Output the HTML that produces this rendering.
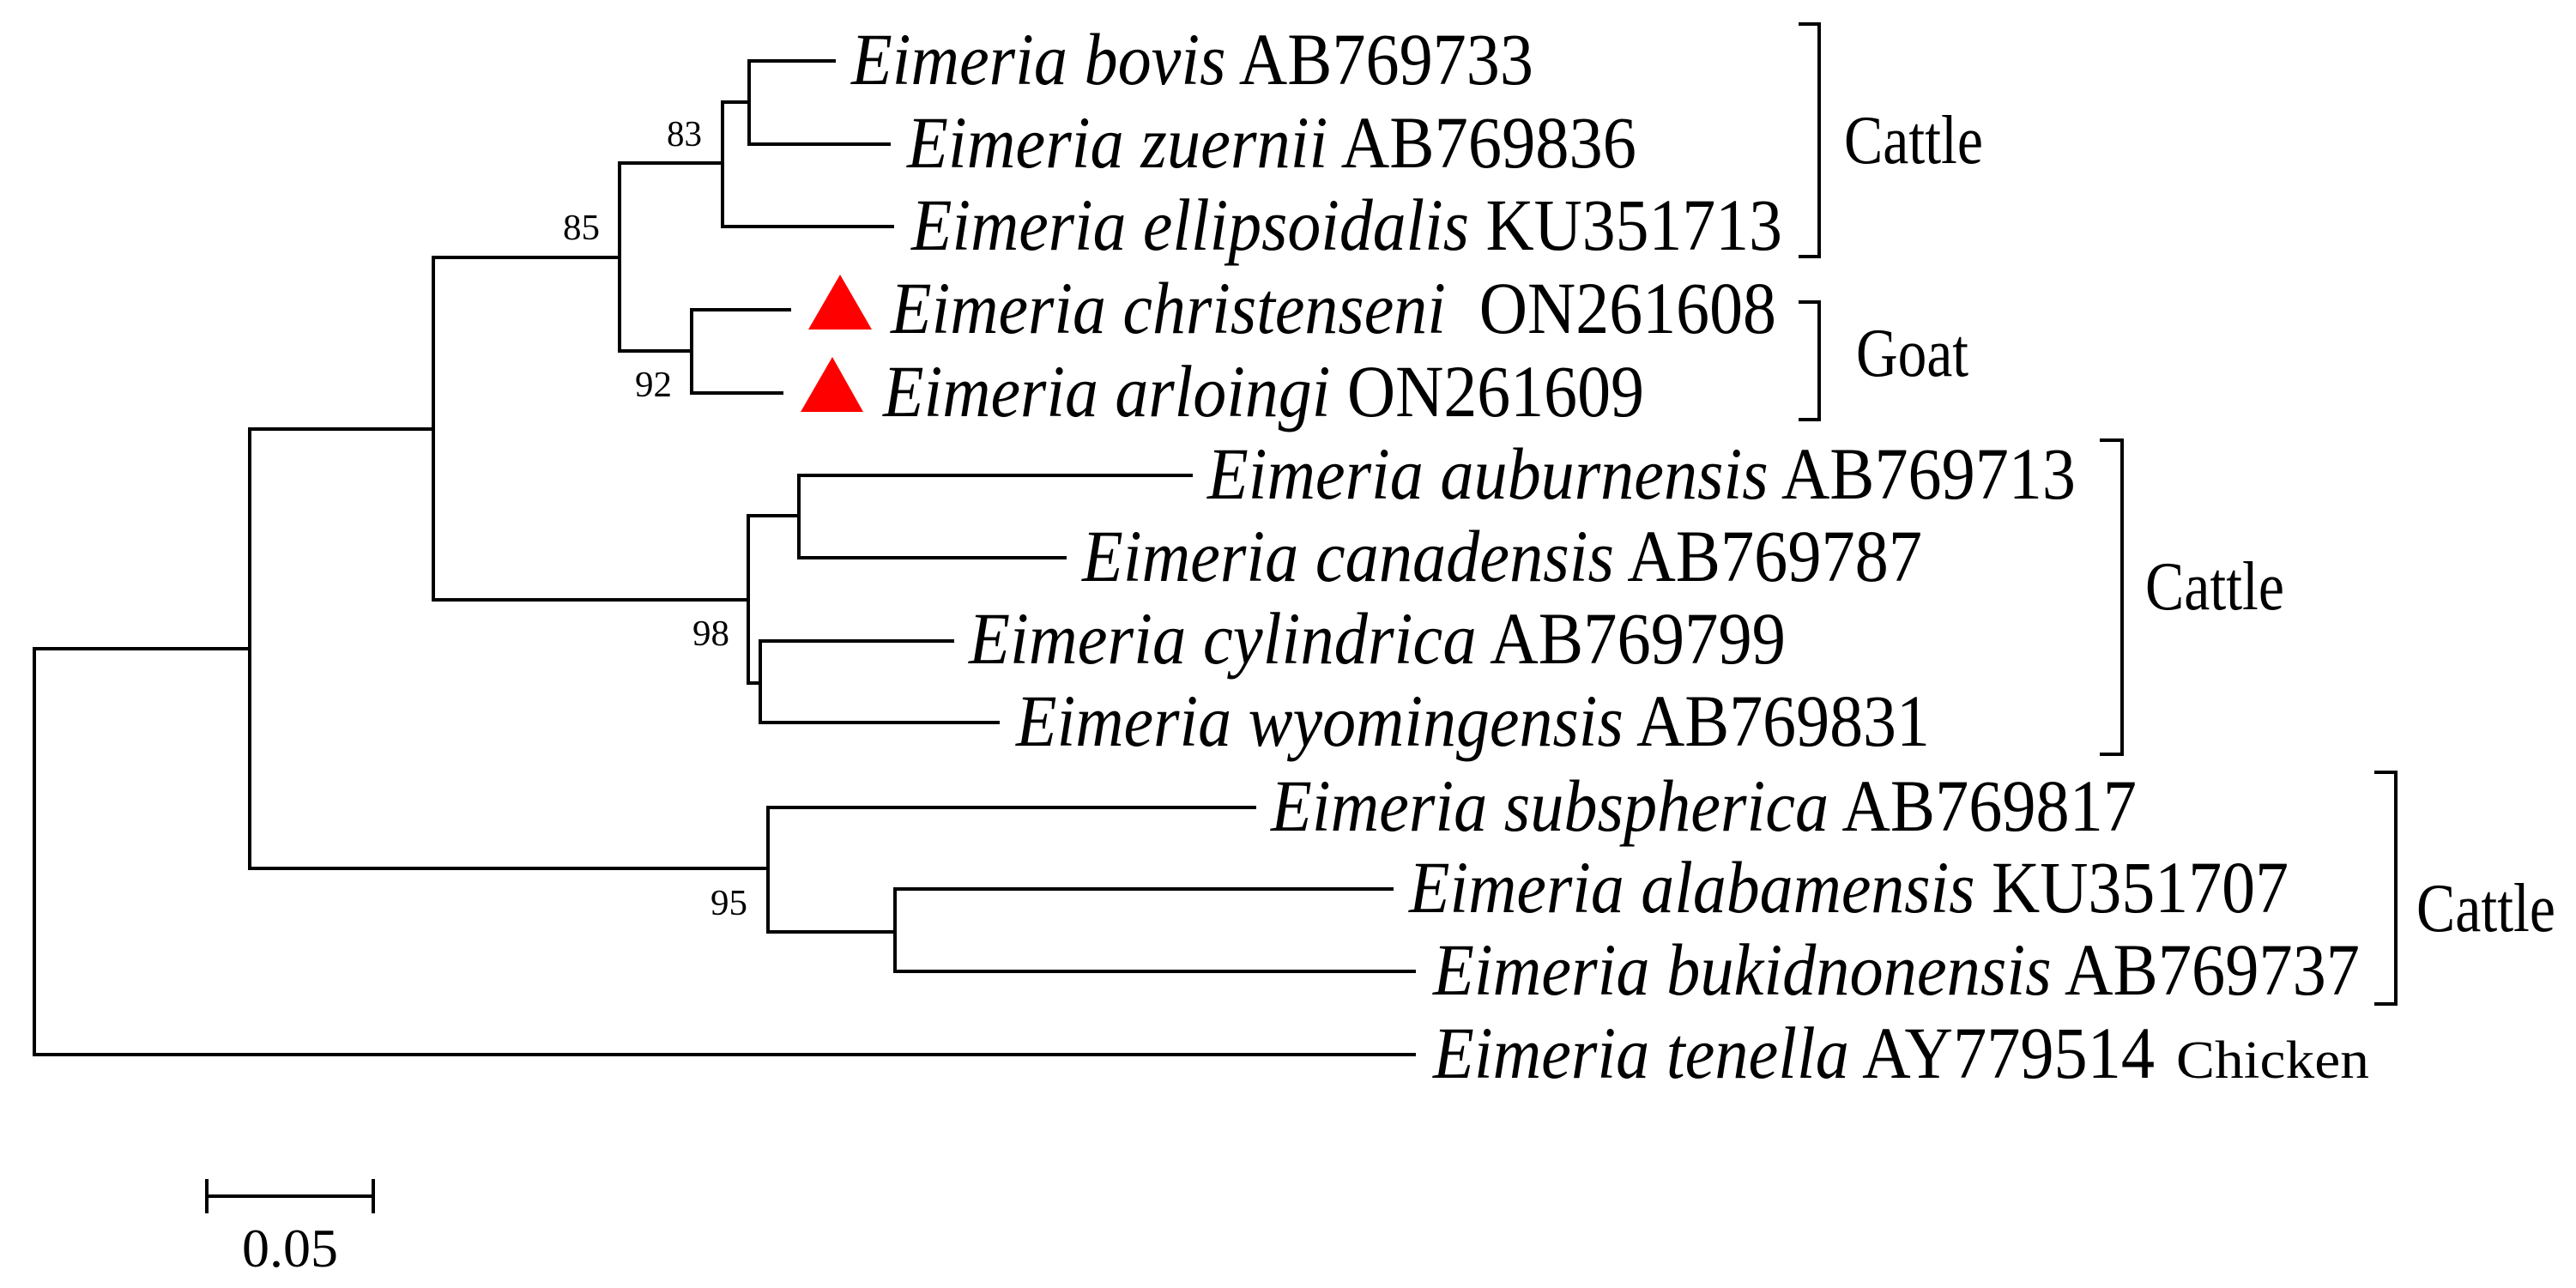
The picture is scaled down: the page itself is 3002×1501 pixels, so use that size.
<!DOCTYPE html>
<html><head><meta charset="utf-8"><style>
html,body{margin:0;padding:0;background:#fff;}
svg{display:block;}
text{font-family:"Liberation Serif",serif;fill:#000;}
.t{font-size:86px;}
.b{font-size:42px;}
</style></head><body>
<svg width="3002" height="1501" viewBox="0 0 3002 1501" xmlns="http://www.w3.org/2000/svg">
<g stroke="#000" stroke-width="4" fill="none" stroke-linecap="square">
<path d="M972,71 H873 V168 H1036"/>
<path d="M873,119 H842 V264 H1040"/>
<path d="M842,190 H722 V409 H806"/>
<path d="M920,361 H806 V458 H911"/>
<path d="M722,300 H505 V699 H872"/>
<path d="M1388,554 H931 V650 H1241"/>
<path d="M931,601 H872 V796 H886"/>
<path d="M1110,747 H886 V842 H1163"/>
<path d="M505,500 H291 V1012 H895"/>
<path d="M1462,941 H895 V1086 H1043"/>
<path d="M1622,1036 H1043 V1132 H1648"/>
<path d="M291,756 H40 V1229 H1648"/>
<path d="M2098,28 H2120 V299 H2098"/>
<path d="M2098,352 H2120 V489 H2098"/>
<path d="M2449,513 H2473 V879 H2449"/>
<path d="M2769,900 H2792 V1170 H2769"/>
<path d="M241,1394 H435 M241,1376 V1412 M435,1376 V1412"/>
</g>
<polygon points="979,320 942,384 1016,384" fill="#f00"/>
<polygon points="970,416 933,480 1006,480" fill="#f00"/>
<g class="t">
<text x="992" y="98" textLength="795" lengthAdjust="spacingAndGlyphs"><tspan font-style="italic">Eimeria bovis</tspan> AB769733</text>
<text x="1057" y="195" textLength="850" lengthAdjust="spacingAndGlyphs"><tspan font-style="italic">Eimeria zuernii</tspan> AB769836</text>
<text x="1062" y="291" textLength="1015" lengthAdjust="spacingAndGlyphs"><tspan font-style="italic">Eimeria ellipsoidalis</tspan> KU351713</text>
<text x="1038" y="388" textLength="1032" lengthAdjust="spacingAndGlyphs" xml:space="preserve"><tspan font-style="italic">Eimeria christenseni</tspan>  ON261608</text>
<text x="1029" y="485" textLength="887" lengthAdjust="spacingAndGlyphs"><tspan font-style="italic">Eimeria arloingi</tspan> ON261609</text>
<text x="1407" y="581" textLength="1012" lengthAdjust="spacingAndGlyphs"><tspan font-style="italic">Eimeria auburnensis</tspan> AB769713</text>
<text x="1261" y="677" textLength="979" lengthAdjust="spacingAndGlyphs"><tspan font-style="italic">Eimeria canadensis</tspan> AB769787</text>
<text x="1129" y="773" textLength="952" lengthAdjust="spacingAndGlyphs"><tspan font-style="italic">Eimeria cylindrica</tspan> AB769799</text>
<text x="1184" y="869" textLength="1065" lengthAdjust="spacingAndGlyphs"><tspan font-style="italic">Eimeria wyomingensis</tspan> AB769831</text>
<text x="1481" y="968" textLength="1009" lengthAdjust="spacingAndGlyphs"><tspan font-style="italic">Eimeria subspherica</tspan> AB769817</text>
<text x="1642" y="1063" textLength="1025" lengthAdjust="spacingAndGlyphs"><tspan font-style="italic">Eimeria alabamensis</tspan> KU351707</text>
<text x="1670" y="1159" textLength="1080" lengthAdjust="spacingAndGlyphs"><tspan font-style="italic">Eimeria bukidnonensis</tspan> AB769737</text>
<text x="1670" y="1256" textLength="841" lengthAdjust="spacingAndGlyphs"><tspan font-style="italic">Eimeria tenella</tspan> AY779514</text>
<text x="2536" y="1256" font-size="62" textLength="225" lengthAdjust="spacingAndGlyphs">Chicken</text>
<text x="2149" y="190" font-size="80" textLength="162" lengthAdjust="spacingAndGlyphs">Cattle</text>
<text x="2163" y="438" font-size="80" textLength="131" lengthAdjust="spacingAndGlyphs">Goat</text>
<text x="2500" y="710" font-size="80" textLength="162" lengthAdjust="spacingAndGlyphs">Cattle</text>
<text x="2816" y="1085" font-size="80" textLength="162" lengthAdjust="spacingAndGlyphs">Cattle</text>
<text x="338" y="1476" font-size="64" text-anchor="middle">0.05</text>
</g>
<g class="b">
<text x="777" y="170" textLength="41" lengthAdjust="spacingAndGlyphs">83</text>
<text x="656" y="279" textLength="43" lengthAdjust="spacingAndGlyphs">85</text>
<text x="740" y="462" textLength="43" lengthAdjust="spacingAndGlyphs">92</text>
<text x="807" y="752" textLength="43" lengthAdjust="spacingAndGlyphs">98</text>
<text x="828" y="1066" textLength="43" lengthAdjust="spacingAndGlyphs">95</text>
</g>
</svg>
</body></html>
